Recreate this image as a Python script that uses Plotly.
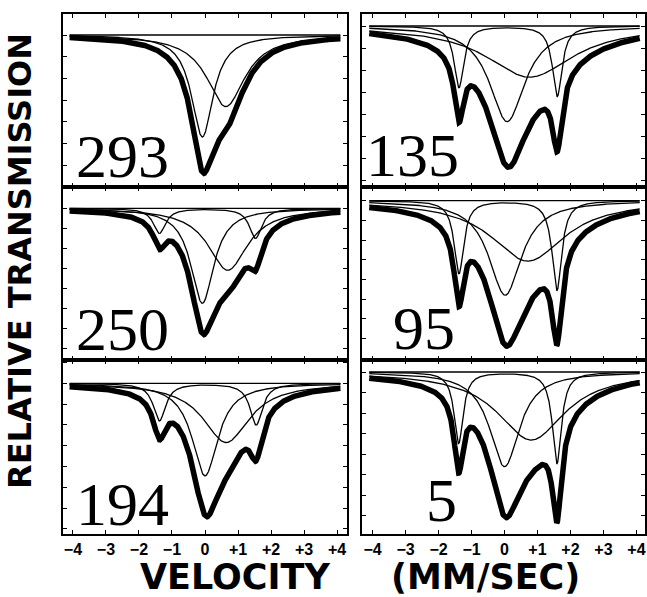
import numpy as np
import plotly.graph_objects as go

# ---- text ----
tick_vals = [-4, -3, -2, -1, 0, 1, 2, 3, 4]
tick_text = ['−4', '−3', '−2', '−1', '0', '+1', '+2', '+3', '+4']
temps = ['293', '250', '194', '135', '95', '5']

# ---- fitted absorption lines ----
# centre (mm/s), full width at half maximum (mm/s), depth (% of baseline), component index
p293_centre = [-0.08, 0.63]
p293_fwhm = [0.80, 1.40]
p293_depth = [4.70, 3.30]
p293_group = [0, 1]

p250_centre = [-0.08, 0.69, -1.38, 1.53]
p250_fwhm = [0.85, 1.45, 0.45, 0.45]
p250_depth = [4.75, 3.10, 1.25, 1.50]
p250_group = [0, 1, 2, 2]

p194_centre = [0.00, 0.64, -1.38, 1.55]
p194_fwhm = [0.95, 1.70, 0.45, 0.45]
p194_depth = [4.45, 2.85, 1.80, 2.00]
p194_group = [0, 1, 2, 2]

p135_centre = [0.08, 0.76, -1.38, 1.60]
p135_fwhm = [1.30, 3.20, 0.35, 0.35]
p135_depth = [4.35, 2.33, 2.80, 3.20]
p135_group = [0, 1, 2, 2]

p95_centre = [0.02, 0.71, -1.38, 1.59]
p95_fwhm = [1.20, 2.70, 0.35, 0.35]
p95_depth = [4.80, 3.07, 3.70, 4.55]
p95_group = [0, 1, 2, 2]

p5_centre = [0.00, 0.81, -1.39, 1.59]
p5_fwhm = [1.10, 2.50, 0.33, 0.33]
p5_depth = [4.62, 3.32, 3.48, 4.46]
p5_group = [0, 1, 2, 2]

panels = [
    (p293_centre, p293_fwhm, p293_depth, p293_group),
    (p250_centre, p250_fwhm, p250_depth, p250_group),
    (p194_centre, p194_fwhm, p194_depth, p194_group),
    (p135_centre, p135_fwhm, p135_depth, p135_group),
    (p95_centre, p95_fwhm, p95_depth, p95_group),
    (p5_centre, p5_fwhm, p5_depth, p5_group),
]

# ---- layout (pixels of the 647 x 597 page) ----
W, H = 647, 597
col_px = [(63, 347), (362, 645)]
row_px = [(14, 187), (187, 360), (360, 534)]
x_ranges = [(-4.30, 4.30), (-4.32, 4.26)]
# (column, row, baseline offset below frame top px, tick spacing px)
place = [(0, 0, 21, 21.7), (0, 1, 21.3, 20.0), (0, 2, 23.3, 20.8),
         (1, 0, 12, 22.0), (1, 1, 13.7, 19.7), (1, 2, 12, 20.5)]
label_pos = [(122, 156), (122, 329), (122, 504), (412, 155), (424, 328), (441, 500)]

v = np.linspace(-4.1, 4.1, 1201)


def lorentz(x, c, g, d):
    return d / (1.0 + (2.0 * (x - c) / g) ** 2)


fig = go.Figure()
layout = dict(width=W, height=H, margin=dict(l=0, r=0, t=0, b=0), autosize=False,
              paper_bgcolor='white', plot_bgcolor='white', showlegend=False)
annotations = []

for i, ((cen, fw, dep, grp), (ci, ri, off, sp)) in enumerate(zip(panels, place)):
    n = i + 1
    xa = 'x' if n == 1 else f'x{n}'
    ya = 'y' if n == 1 else f'y{n}'
    comps = {}
    for c, g, d, k in zip(cen, fw, dep, grp):
        comps.setdefault(k, np.zeros_like(v))
        comps[k] = comps[k] + lorentz(v, c, g, d)
    total = sum(comps.values())
    # measured spectrum (thick)
    fig.add_trace(go.Scatter(x=v, y=100 - total, mode='lines',
                             line=dict(color='black', width=5.5), xaxis=xa, yaxis=ya,
                             hoverinfo='skip'))
    # baseline
    fig.add_trace(go.Scatter(x=[v[0], v[-1]], y=[100, 100], mode='lines',
                             line=dict(color='black', width=1.3), xaxis=xa, yaxis=ya,
                             hoverinfo='skip'))
    for k in sorted(comps):
        fig.add_trace(go.Scatter(x=v, y=100 - comps[k], mode='lines',
                                 line=dict(color='black', width=1.3), xaxis=xa, yaxis=ya,
                                 hoverinfo='skip'))
    x0, x1 = col_px[ci]
    y0, y1 = row_px[ri]
    top = 100 + off / sp
    bot = top - (y1 - y0) / sp
    layout['xaxis' if n == 1 else f'xaxis{n}'] = dict(
        domain=[x0 / W, x1 / W], range=list(x_ranges[ci]), anchor=ya,
        tickvals=tick_vals, ticktext=tick_text, ticks='inside', ticklen=4, tickwidth=1.3,
        tickcolor='black', showline=True, linecolor='black', linewidth=1.8, mirror='ticks',
        showgrid=False, zeroline=False, showticklabels=(ri == 2), automargin=False,
        tickfont=dict(family='Liberation Sans', size=16, color='black', weight='bold'))
    layout['yaxis' if n == 1 else f'yaxis{n}'] = dict(
        domain=[1 - y1 / H, 1 - y0 / H], range=[bot, top], anchor=xa,
        tick0=100, dtick=1, ticks='inside', ticklen=4, tickwidth=1.3, tickcolor='black',
        showline=True, linecolor='black', linewidth=1.8, mirror='ticks',
        showgrid=False, zeroline=False, showticklabels=False, automargin=False)
    lx, ly = label_pos[i]
    annotations.append(dict(text=temps[i], x=lx / W, y=1 - ly / H, xref='paper', yref='paper',
                            xanchor='center', yanchor='middle', showarrow=False,
                            font=dict(family='Liberation Serif', size=62, color='black')))

title_font = dict(family='DejaVu Sans', size=35, color='black', weight='bold')
annotations.append(dict(text='VELOCITY', x=235 / W, y=1 - 577 / H, xref='paper', yref='paper',
                        xanchor='center', yanchor='middle', showarrow=False, font=title_font))
annotations.append(dict(text='(MM/SEC)', x=485.5 / W, y=1 - 577 / H, xref='paper', yref='paper',
                        xanchor='center', yanchor='middle', showarrow=False, font=title_font))
annotations.append(dict(text='RELATIVE TRANSMISSION', x=20 / W, y=1 - 261 / H, xref='paper',
                        yref='paper', xanchor='center', yanchor='middle', showarrow=False,
                        textangle=-90,
                        font=dict(family='DejaVu Sans', size=32, color='black', weight='bold')))
layout['annotations'] = annotations
fig.update_layout(**layout)
fig.write_html('out.html', config={'displayModeBar': False},
               post_script="document.body.style.margin='0';document.body.style.padding='0';")
